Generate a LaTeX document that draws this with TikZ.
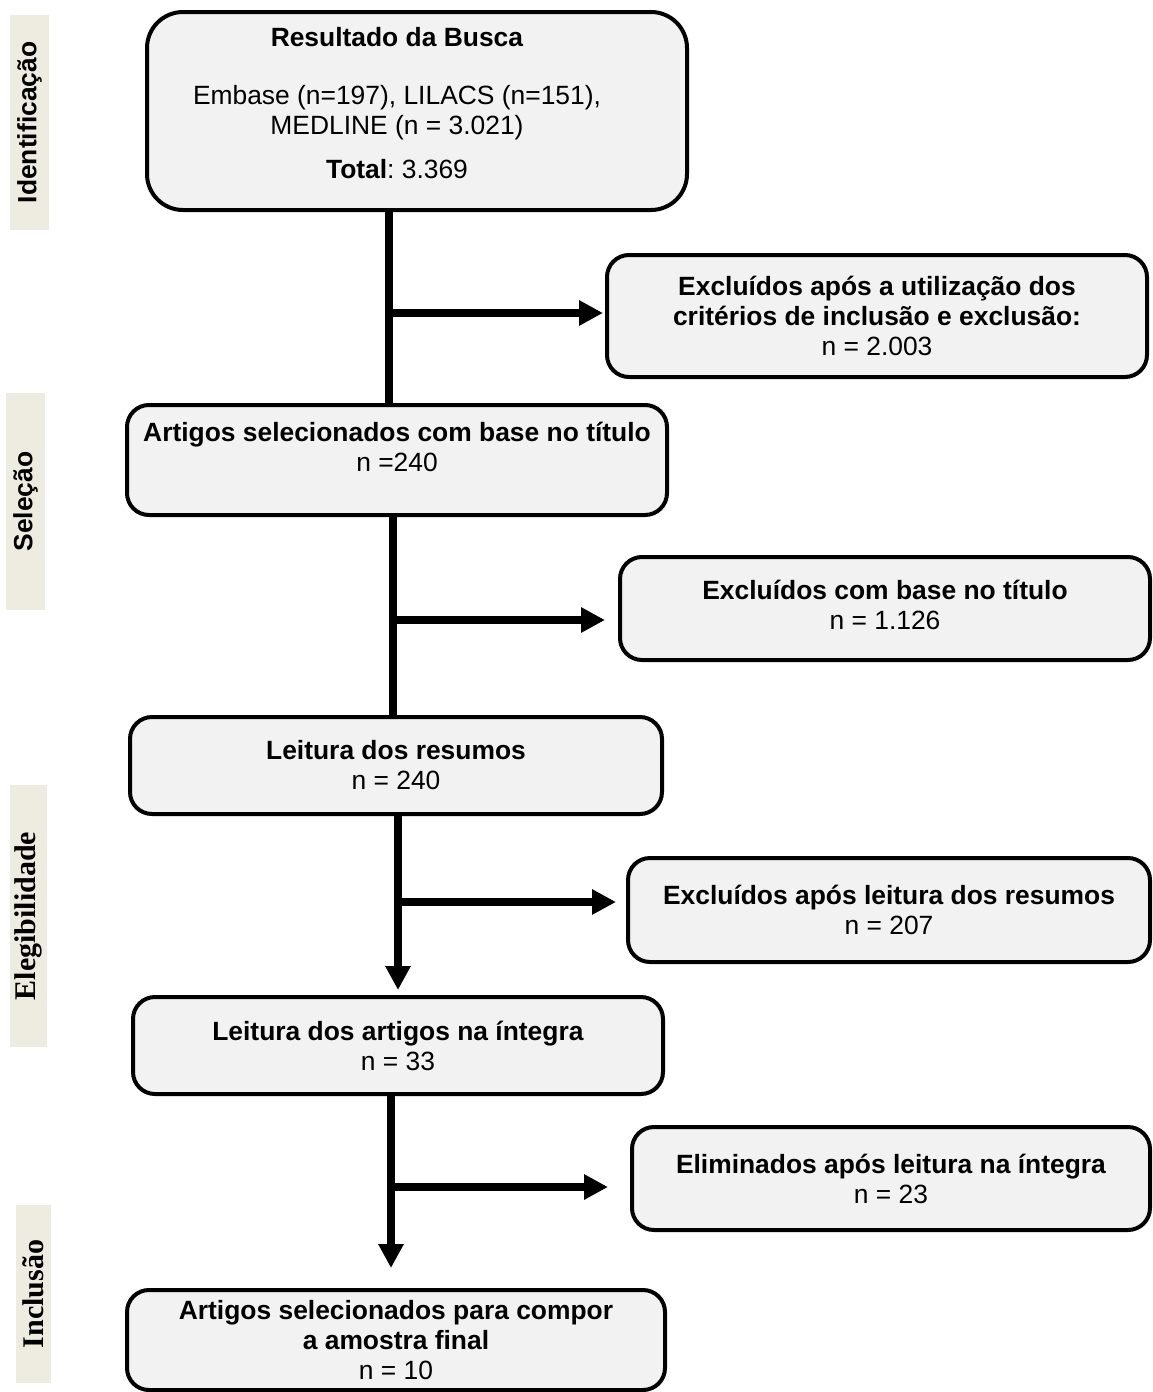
\documentclass[tikz,border=0pt]{standalone}
\usepackage{fontspec}
\setmainfont{Liberation Sans}
\newfontfamily\phaseserif{Liberation Serif}
\usetikzlibrary{arrows.meta}
\definecolor{boxgray}{HTML}{F2F2F2}
\definecolor{phasebeige}{HTML}{EEECE1}
\newcommand{\boxfont}{\fontsize{13.2}{15}\selectfont}
\frenchspacing

\begin{document}
\begin{tikzpicture}[x=0.5pt,y=-0.5pt,
  box/.style={draw,line width=2pt,rounded corners=11pt,fill=boxgray,align=center,inner sep=0pt,font=\boxfont},
  phase/.style={fill=phasebeige,inner sep=0pt,rotate=90},
  flow/.style={line width=4pt},
  flowarrow/.style={flow,-{Triangle[length=12pt,width=12pt]}}]
\useasboundingbox (0,0) rectangle (1152,1392);

\node[phase,minimum width=107.5pt,minimum height=19.5pt,font=\boxfont\bfseries] (ident) at (29.5,122.5) {Identificação};
\node[phase,minimum width=108.5pt,minimum height=19.5pt,font=\boxfont\bfseries] (selec) at (25.5,501.5) {Seleção};
\node[phase,minimum width=131pt,minimum height=18.5pt,font=\phaseserif\fontsize{15}{17}\selectfont\bfseries] (elegib) at (28.5,916) {Elegibilidade};
\node[phase,minimum width=89pt,minimum height=17.5pt,font=\phaseserif\fontsize{15}{17}\selectfont\bfseries] (inclus) at (33.5,1294) {Inclusão};

\node[box,rounded corners=18pt,minimum width=270pt,minimum height=99pt] (busca) at (417,111) {};
\node[align=center,font=\boxfont] (buscatxt) at (397,103) {\textbf{Resultado da Busca}\\[14pt] Embase (n=197), LILACS (n=151),\\ MEDLINE (n = 3.021)\\[7pt] \textbf{Total}: 3.369};
\node[box,minimum width=270pt,minimum height=61pt] (exclcrit) at (877,316) {\textbf{Excluídos após a utilização dos}\\ \textbf{critérios de inclusão e exclusão:}\\ n = 2.003};
\node[box,minimum width=270pt,minimum height=55pt] (titulo) at (397,460) {\textbf{Artigos selecionados com base no título}\\ n =240\\[-2pt]\mbox{}};
\node[box,minimum width=265pt,minimum height=51.5pt] (excltit) at (885,608.5) {\textbf{Excluídos com base no título}\\ n = 1.126\\[-11pt]\mbox{}};
\node[box,minimum width=266pt,minimum height=48.5pt] (resumos) at (396,765.5) {\textbf{Leitura dos resumos}\\ n = 240};
\node[box,minimum width=261pt,minimum height=52pt] (exclres) at (889,910) {\textbf{Excluídos após leitura dos resumos}\\ n = 207};
\node[box,minimum width=265pt,minimum height=48.5pt] (integra) at (398,1045.5) {\textbf{Leitura dos artigos na íntegra}\\ n = 33};
\node[box,minimum width=259pt,minimum height=51.5pt] (elimint) at (891,1178.5) {\textbf{Eliminados após leitura na íntegra}\\ n = 23};
\node[box,minimum width=269pt,minimum height=50pt] (amostra) at (396,1340) {\textbf{Artigos selecionados para compor}\\ \textbf{a amostra final}\\ n = 10};

\coordinate (j1) at (389,313);
\coordinate (j2) at (393,620);
\coordinate (j3) at (398,902);
\coordinate (j4) at (391,1187);

\draw[flow] (busca.south -| j1) -- (titulo.north -| j1);
\draw[flowarrow,shorten >=1pt] (j1) -- (exclcrit.west |- j1);
\draw[flow] (titulo.south -| j2) -- (resumos.north -| j2);
\draw[flowarrow,shorten >=6.5pt] (j2) -- (excltit.west |- j2);
\draw[flowarrow,shorten >=2.5pt] (resumos.south -| j3) -- (integra.north -| j3);
\draw[flowarrow,shorten >=5pt] (j3) -- (exclres.west |- j3);
\draw[flowarrow,shorten >=10pt] (integra.south -| j4) -- (amostra.north -| j4);
\draw[flowarrow,shorten >=11pt] (j4) -- (elimint.west |- j4);
\end{tikzpicture}
\end{document}
